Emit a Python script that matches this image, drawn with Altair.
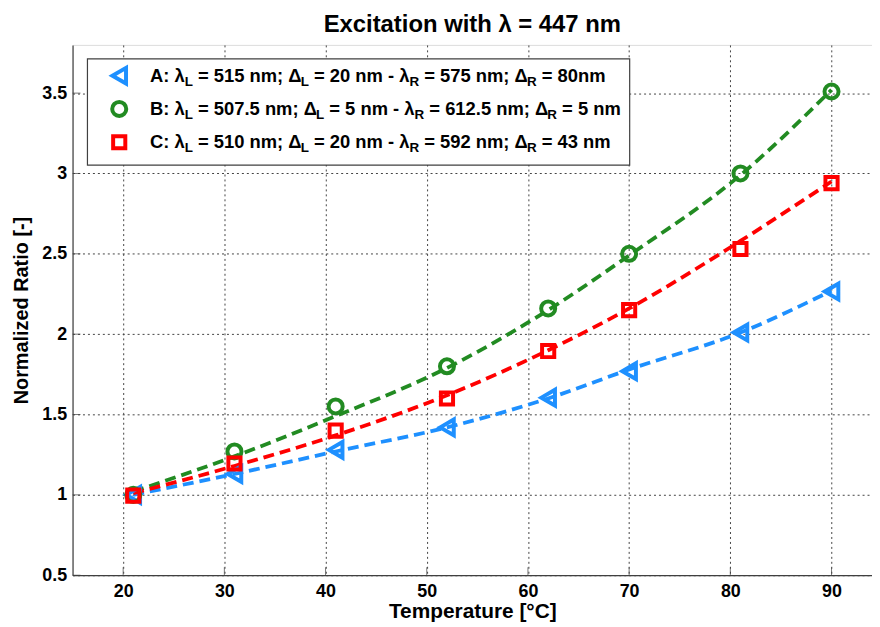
import altair as alt
import pandas as pd

# ---------------- data ----------------
temperature = [21, 31, 41, 52, 62, 70, 81, 90]
series_names = ["A", "B", "C"]

meas_A = [1.00, 1.13, 1.28, 1.42, 1.605, 1.77, 2.01, 2.265]
meas_B = [1.00, 1.27, 1.55, 1.80, 2.16, 2.50, 3.00, 3.51]
meas_C = [0.995, 1.195, 1.40, 1.60, 1.895, 2.15, 2.53, 2.94]

fit_A = [1.00, 1.13, 1.27, 1.42, 1.60, 1.78, 2.01, 2.27]
fit_B = [1.02, 1.24, 1.49, 1.79, 2.15, 2.49, 2.99, 3.52]
fit_C = [1.01, 1.18, 1.37, 1.62, 1.90, 2.16, 2.58, 2.95]

x_ticks = [20, 30, 40, 50, 60, 70, 80, 90]
y_ticks = [0.5, 1, 1.5, 2, 2.5, 3, 3.5]

colors = ["#1E90FF", "#228B22", "#FF0000"]
shapes = ["triangle-left", "circle", "square"]
sizes = [250, 150, 105]

legend_rows = [
    [("A: λ", 0), ("L", 1), (" = 515 nm; Δ", 0), ("L", 1), (" = 20 nm - λ", 0),
     ("R", 1), (" = 575 nm; Δ", 0), ("R", 1), (" = 80nm", 0)],
    [("B: λ", 0), ("L", 1), (" = 507.5 nm; Δ", 0), ("L", 1), (" = 5 nm - λ", 0),
     ("R", 1), (" = 612.5 nm; Δ", 0), ("R", 1), (" = 5 nm", 0)],
    [("C: λ", 0), ("L", 1), (" = 510 nm; Δ", 0), ("L", 1), (" = 20 nm - λ", 0),
     ("R", 1), (" = 592 nm; Δ", 0), ("R", 1), (" = 43 nm", 0)],
]

FONT = "Liberation Sans"
W, H = 805, 534

meas = pd.DataFrame({
    "T": temperature * 3,
    "ratio": meas_A + meas_B + meas_C,
    "series": sum([[s] * len(temperature) for s in series_names], []),
})
fit = pd.DataFrame({
    "T": temperature * 3,
    "ratio": fit_A + fit_B + fit_C,
    "series": sum([[s] * len(temperature) for s in series_names], []),
})

color_scale = alt.Scale(domain=series_names, range=colors)
shape_scale = alt.Scale(domain=series_names, range=shapes)
size_scale = alt.Scale(domain=series_names, range=sizes)

xs = alt.Scale(domain=[15, 94], nice=False, zero=False)
ys = alt.Scale(domain=[0.5, 3.8], nice=False, zero=False)

x_enc = alt.X("T:Q", scale=xs, axis=alt.Axis(
    values=x_ticks, title="Temperature [°C]", grid=True, ticks=False,
    labelFontSize=18, labelFontWeight="bold", labelFont=FONT, labelColor="black",
    labelPadding=7, titleFontSize=21, titleFontWeight="bold", titleFont=FONT,
    titleColor="black", titleY=37, titleBaseline="middle",
    domainColor="#404040", domainWidth=1.2,
    gridColor="#444444", gridDash=[2, 3], gridWidth=1))
y_enc = alt.Y("ratio:Q", scale=ys, axis=alt.Axis(
    values=y_ticks, format="~g", title="Normalized Ratio [-]", grid=True, ticks=False,
    labelFontSize=18, labelFontWeight="bold", labelFont=FONT, labelColor="black",
    labelPadding=6, titleFontSize=20, titleFontWeight="bold", titleFont=FONT,
    titleColor="black", titleX=-51, titleY=H / 2, titleAngle=-90,
    titleAlign="center", titleBaseline="middle",
    domainColor="#404040", domainWidth=1.2,
    gridColor="#444444", gridDash=[2, 3], gridWidth=1))

lines = alt.Chart(fit).mark_line(strokeDash=[11, 6], strokeWidth=3.8,
                                 interpolate="monotone").encode(
    x=x_enc, y=y_enc,
    color=alt.Color("series:N", scale=color_scale, legend=None),
    detail="series:N",
)

points = alt.Chart(meas).mark_point(filled=False, strokeWidth=4, opacity=1).encode(
    x="T:Q", y="ratio:Q",
    color=alt.Color("series:N", scale=color_scale, legend=None),
    shape=alt.Shape("series:N", scale=shape_scale, legend=None),
    size=alt.Size("series:N", scale=size_scale, legend=None),
)

# inward ticks (MATLAB style)
xt = pd.DataFrame({"T": x_ticks})
yt = pd.DataFrame({"ratio": y_ticks})
ticks_x = alt.Chart(xt).mark_tick(color="#404040", thickness=1, size=8).encode(
    x="T:Q", y=alt.value(H - 4))
ticks_y = alt.Chart(yt).mark_tick(color="#404040", thickness=1, size=8,
                                  orient="horizontal").encode(
    y="ratio:Q", x=alt.value(4))

# ---------------- legend ----------------
AW = {' ': 278, ':': 333, ';': 333, '=': 584, '-': 333, '.': 278,
      'A': 722, 'B': 722, 'C': 722, 'L': 611, 'R': 722, 'n': 611, 'm': 889,
      'λ': 556, 'Δ': 668}
for d in "0123456789":
    AW[d] = 556


def tw(s, size):
    return sum(AW.get(c, 556) for c in s) * size / 1000.0


LEG_FS, SUB_FS = 18.5, 13.5
leg_x0, leg_text_x = 15, 78
row_y = [31, 64.5, 98]
seg_rows = []
for r, row in enumerate(legend_rows):
    x = leg_text_x
    for text, sub in row:
        fs = SUB_FS if sub else LEG_FS
        stripped = text.lstrip(" ")
        x += tw(text[:len(text) - len(stripped)], fs)
        seg_rows.append({"px": x, "py": row_y[r] + (6 if sub else 0),
                         "txt": stripped, "fs": fs})
        x += tw(stripped, fs)
segs = pd.DataFrame(seg_rows)

leg_box = alt.Chart(pd.DataFrame({"a": [0]})).mark_rect(
    fill="white", stroke="#404040", strokeWidth=1.2).encode(
    x=alt.value(leg_x0), x2=alt.value(561), y=alt.value(14), y2=alt.value(121))

leg_pts = alt.Chart(pd.DataFrame({"series": series_names, "px": [47] * 3,
                                  "py": row_y})).mark_point(
    filled=False, strokeWidth=4, opacity=1).encode(
    x=alt.X("px:Q", scale=None), y=alt.Y("py:Q", scale=None),
    color=alt.Color("series:N", scale=color_scale, legend=None),
    shape=alt.Shape("series:N", scale=shape_scale, legend=None),
    size=alt.Size("series:N", scale=size_scale, legend=None),
)

leg_txt = alt.Chart(segs).mark_text(align="left", baseline="middle", font=FONT,
                                    fontWeight="bold", color="black").encode(
    x=alt.X("px:Q", scale=None), y=alt.Y("py:Q", scale=None),
    text="txt:N", size=alt.Size("fs:Q", scale=None),
)

chart = alt.layer(lines, points, ticks_x, ticks_y, leg_box, leg_pts, leg_txt).properties(
    width=W, height=H,
    title=alt.TitleParams("Excitation with λ = 447 nm", font=FONT, fontSize=24,
                          fontWeight="bold", color="black", anchor="middle", offset=8),
    autosize=alt.AutoSizeParams(type="none"),
    padding={"left": 65, "top": 35, "right": 0, "bottom": 52},
).configure_view(stroke=None).configure(background="white")

chart.save("out.html", embed_options={"renderer": "svg", "actions": False})
